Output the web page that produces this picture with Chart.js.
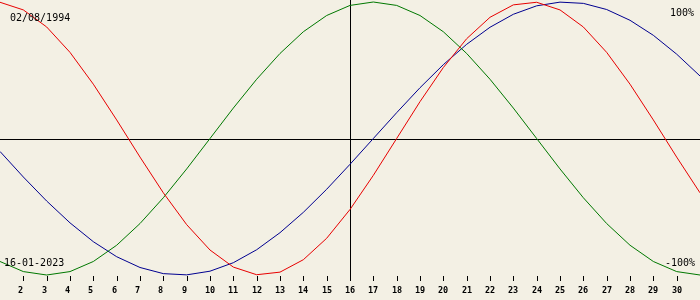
<!DOCTYPE html>
<html>
<head>
<meta charset="utf-8">
<script src="https://cdn.jsdelivr.net/npm/chart.js@4.4.1/dist/chart.umd.min.js"></script>
<style>
  html, body { margin: 0; padding: 0; background: #f3f0e4; }
  #wrap { width: 700px; height: 300px; position: relative; }
</style>
</head>
<body>
<div id="wrap"><canvas id="c"></canvas></div>
<script>
const days = [1,2,3,4,5,6,7,8,9,10,11,12,13,14,15,16,17,18,19,20,21,22,23,24,25,26,27,28,29,30,31];
const physical = [0.998,0.942,0.817,0.631,0.398,0.136,-0.136,-0.398,-0.631,-0.817,-0.942,-0.998,-0.979,-0.888,-0.731,-0.520,-0.270,0.000,0.270,0.520,0.731,0.888,0.979,0.998,0.942,0.817,0.631,0.398,0.136,-0.136,-0.398];
const emotional = [-0.901,-0.975,-1.000,-0.975,-0.901,-0.782,-0.623,-0.434,-0.223,0.000,0.223,0.434,0.623,0.782,0.901,0.975,1.000,0.975,0.901,0.782,0.623,0.434,0.223,0.000,-0.223,-0.434,-0.623,-0.782,-0.901,-0.975,-1.000];
const intellectual = [-0.095,-0.282,-0.458,-0.618,-0.756,-0.866,-0.945,-0.990,-0.999,-0.972,-0.910,-0.815,-0.690,-0.541,-0.372,-0.189,0.000,0.189,0.372,0.541,0.690,0.815,0.910,0.972,0.999,0.990,0.945,0.866,0.756,0.618,0.458];
const tickLabels = [2,3,4,5,6,7,8,9,10,11,12,13,14,15,16,17,18,19,20,21,22,23,24,25,26,27,28,29,30];
const currentDay = 16;
const birthDate = "02/08/1994";
const chartDate = "16-01-2023";
const topLabel = "100%";
const bottomLabel = "-100%";

const toPts = arr => days.map((d, i) => ({ x: d, y: arr[i] }));

const decor = {
  id: 'decor',
  beforeDraw(chart) {
    const ctx = chart.ctx;
    ctx.save();
    ctx.fillStyle = '#f3f0e4';
    ctx.fillRect(0, 0, chart.width, chart.height);
    ctx.restore();
  },
  beforeDatasetsDraw(chart) {
    const ctx = chart.ctx;
    const xs = chart.scales.x, ys = chart.scales.y;
    ctx.save();
    ctx.strokeStyle = '#000';
    ctx.lineWidth = 1;
    // zero line
    const y0 = Math.round(ys.getPixelForValue(0)) + 0.5;
    ctx.beginPath();
    ctx.moveTo(0, y0); ctx.lineTo(chart.width, y0);
    ctx.stroke();
    // current day line
    const xc = Math.round(xs.getPixelForValue(currentDay)) + 0.5;
    ctx.beginPath();
    ctx.moveTo(xc, 0); ctx.lineTo(xc, 281);
    ctx.stroke();
    // ticks and labels
    ctx.fillStyle = '#000';
    ctx.font = 'bold 8.5px "DejaVu Sans Mono"';
    ctx.textAlign = 'left';
    ctx.textBaseline = 'alphabetic';
    tickLabels.forEach(d => {
      const x = Math.round(xs.getPixelForValue(d)) + 0.5;
      ctx.beginPath();
      ctx.moveTo(x, 276); ctx.lineTo(x, 281);
      ctx.stroke();
      ctx.fillText(String(d), x - 5.5, 292.5);
    });
    ctx.restore();
  },
  afterDraw(chart) {
    const ctx = chart.ctx;
    ctx.save();
    ctx.fillStyle = '#000';
    ctx.font = '10px "DejaVu Sans Mono"';
    ctx.textBaseline = 'alphabetic';
    ctx.textAlign = 'left';
    ctx.fillText(birthDate, 10, 20.5);
    ctx.fillText(chartDate, 4, 266);
    ctx.textAlign = 'right';
    ctx.fillText(topLabel, 694, 16);
    ctx.fillText(bottomLabel, 695, 266);
    ctx.restore();
  }
};

new Chart(document.getElementById('c'), {
  type: 'line',
  data: {
    datasets: [
      { label: 'Physical', data: toPts(physical), borderColor: '#e80000', borderWidth: 1, pointRadius: 0, tension: 0, clip: false },
      { label: 'Emotional', data: toPts(emotional), borderColor: '#007800', borderWidth: 1, pointRadius: 0, tension: 0, clip: false },
      { label: 'Intellectual', data: toPts(intellectual), borderColor: '#000090', borderWidth: 1, pointRadius: 0, tension: 0, clip: false }
    ]
  },
  options: {
    responsive: true,
    maintainAspectRatio: false,
    animation: false,
    layout: { padding: { top: 2, bottom: 25, left: 0, right: 0 } },
    plugins: { legend: { display: false }, tooltip: { enabled: false } },
    scales: {
      x: { type: 'linear', min: 1, max: 31, display: false },
      y: { type: 'linear', min: -1, max: 1, display: false }
    }
  },
  plugins: [decor]
});
</script>
</body>
</html>
